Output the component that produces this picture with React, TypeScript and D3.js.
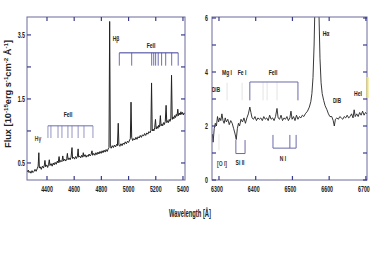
import React from "react";
import * as d3 from "d3";

// ---------- Left panel data (wavelength Å, flux in plotted units) ----------
const leftWave = [4255,4262,4268,4275,4282,4290,4297,4305,4312,4320,4328,4335,4340,4344,4350,4358,4366,4374,4381,4385,4390,4398,4405,4412,4417,4422,4430,4438,4446,4453,4460,4468,4476,4482,4489,4494,4502,4510,4516,4522,4530,4538,4545,4550,4555,4562,4570,4577,4584,4588,4595,4603,4610,4617,4624,4629,4633,4640,4648,4655,4662,4667,4672,4680,4688,4695,4702,4710,4717,4724,4731,4736,4744,4752,4760,4767,4775,4782,4790,4798,4805,4812,4820,4828,4835,4843,4850,4856,4861,4866,4872,4880,4888,4896,4904,4912,4918,4924,4929,4936,4944,4952,4960,4968,4976,4984,4992,5000,5008,5013,5018,5023,5030,5038,5046,5054,5062,5070,5078,5086,5094,5102,5110,5118,5126,5134,5142,5150,5158,5164,5169,5174,5180,5186,5192,5198,5203,5210,5216,5222,5228,5234,5239,5245,5251,5257,5263,5270,5276,5281,5287,5293,5299,5305,5311,5316,5321,5327,5333,5339,5345,5351,5356,5362,5367,5373,5379,5385,5391,5397,5403,5409,5415];
const leftFlux = [0.36,0.39,0.35,0.37,0.34,0.38,0.35,0.37,0.40,0.37,0.41,0.45,0.66,0.42,0.44,0.40,0.45,0.42,0.47,0.54,0.44,0.47,0.43,0.48,0.55,0.46,0.49,0.45,0.50,0.47,0.51,0.48,0.53,0.50,0.60,0.51,0.54,0.52,0.61,0.53,0.56,0.53,0.57,0.65,0.55,0.58,0.55,0.59,0.74,0.57,0.59,0.56,0.60,0.57,0.61,0.72,0.59,0.61,0.58,0.62,0.59,0.66,0.60,0.63,0.59,0.62,0.60,0.64,0.61,0.63,0.69,0.62,0.65,0.62,0.66,0.63,0.67,0.64,0.68,0.65,0.69,0.66,0.70,0.67,0.71,0.68,0.72,0.74,2.71,0.76,0.73,0.77,0.74,0.78,0.75,0.79,0.77,1.12,0.78,0.76,0.80,0.77,0.81,0.79,0.83,0.80,0.84,0.82,0.86,0.88,1.45,0.90,0.85,0.88,0.86,0.90,0.87,0.91,0.89,0.93,0.90,0.94,0.92,0.96,0.93,0.97,0.95,0.99,0.97,1.01,1.75,1.00,1.03,1.00,1.05,1.18,1.03,1.07,1.04,1.09,1.06,1.24,1.08,1.11,1.08,1.13,1.10,1.15,1.40,1.13,1.16,1.13,1.18,1.15,1.20,1.87,1.18,1.22,1.19,1.24,1.21,1.26,1.23,1.34,1.24,1.28,1.25,1.30,1.26,1.29,1.25,1.28,1.27];

const leftXTicks = [4400, 4600, 4800, 5000, 5200, 5400];
const leftYTicks = [0.5, 1.0, 1.5, 2.0, 2.5];
const leftYLabels = ["0.5", "", "1.5", "", "3.5"];

// Fe II combs (left panel)
const feUpperWaves = [4932, 5023, 5170, 5185, 5199, 5218, 5243, 5273, 5317, 5365];
const feLowerWaves = [4407, 4429, 4481, 4510, 4554, 4584, 4629, 4672, 4738];

// ---------- Right panel data ----------
const rightWave = [6282,6284,6287,6290,6293,6296,6299,6302,6305,6308,6311,6314,6317,6320,6324,6328,6332,6336,6340,6344,6347,6350,6353,6356,6360,6364,6368,6372,6376,6380,6384,6387,6390,6394,6398,6402,6406,6410,6414,6418,6422,6426,6430,6434,6438,6442,6446,6450,6454,6458,6461,6465,6469,6473,6477,6481,6485,6489,6493,6496,6499,6503,6507,6511,6515,6519,6523,6527,6531,6535,6541,6546,6550,6553,6556,6559,6561,6564,6567,6570,6572,6575,6578,6581,6585,6589,6594,6598,6602,6607,6611,6614,6617,6621,6625,6629,6633,6637,6641,6645,6649,6653,6657,6661,6665,6668,6671,6675,6679,6683,6687,6691,6695,6699,6703];
const rightFlux = [1.7,1.4,1.9,2.1,2.0,2.35,2.15,2.3,2.2,2.45,2.2,2.1,2.3,2.15,2.25,2.05,2.2,2.1,1.9,1.7,1.5,1.9,2.1,2.0,2.25,2.15,2.3,2.1,2.3,2.45,2.7,2.5,2.3,2.25,2.35,2.2,2.3,2.25,2.3,2.2,2.35,2.25,2.3,2.2,2.4,2.25,2.3,2.2,2.35,2.65,2.3,2.25,2.4,2.2,2.3,2.25,2.35,2.2,2.3,2.55,2.25,2.35,2.2,2.4,2.25,2.35,2.3,2.4,2.35,2.45,2.55,2.7,2.9,3.2,3.8,5.0,6.3,9.0,10.0,9.0,6.3,4.5,3.6,3.2,2.95,2.75,2.6,2.45,2.35,2.35,2.2,2.0,2.25,2.3,2.25,2.35,2.3,2.25,2.35,2.3,2.4,2.3,2.35,2.45,2.3,2.6,2.35,2.45,2.35,2.5,2.4,2.55,2.4,2.5,2.45];

const rightXTicks = [6300, 6400, 6500, 6600, 6700];
const rightYTicks = [0, 1, 2, 3, 4, 5, 6];
const rightYLabels = ["0", "", "2", "", "4", "", "6"];

// Right-panel line identifications (wavelengths)
const feIIBracket = [6384, 6515];
const feIIFaint = [6420, 6431, 6458];
const mgIWave = 6322;
const feIWave = 6363;
const siIIBracket = [6346, 6371];
const nIBracket = [6447, 6493, 6510];
const oIWave = 6300;

const FRAME = "#6a6a9a";
const TICK = "#3a3a8c";
const FONT = "'Liberation Sans', Arial, sans-serif";

function T({ x, y, children, size = 7, sx = 0.72, anchor = "middle", fill = "#222" }: any) {
  return (
    <text
      transform={`translate(${x},${y}) scale(${sx},1)`}
      textAnchor={anchor}
      fontSize={size}
      fontWeight="bold"
      fontFamily={FONT}
      fill={fill}
    >
      {children}
    </text>
  );
}

export default function App() {
  const xL = d3.scaleLinear().domain([4253, 5415]).range([27, 185]);
  const yL = d3.scaleLinear().domain([0.234, 2.78]).range([180, 17]);
  const xR = d3.scaleLinear().domain([6281, 6703]).range([212, 367]);
  const yR = d3.scaleLinear().domain([0, 6]).range([180, 18]);

  const lineL = d3
    .line<number>()
    .x((_, i) => xL(leftWave[i]))
    .y((d) => yL(d));
  const lineR = d3
    .line<number>()
    .x((_, i) => xR(rightWave[i]))
    .y((d) => yR(d));

  const tl = 4;

  const frame = (x0: number, x1: number, y0: number, y1: number) => (
    <rect x={x0} y={y0} width={x1 - x0} height={y1 - y0} fill="none" stroke={FRAME} strokeWidth={1} />
  );

  // comb levels
  const upTop = yL(2.22), upBot = yL(2.02);
  const loTop = yL(1.08), loBot = yL(0.89);

  return (
    <svg width={370} height={278} style={{ position: "absolute", left: 0, top: 0, background: "#fff" }}>
      <defs>
        <clipPath id="clipL">
          <rect x={27} y={17} width={158} height={163} />
        </clipPath>
        <clipPath id="clipR">
          <rect x={212} y={17} width={155} height={163} />
        </clipPath>
      </defs>

      {/* ---------- LEFT PANEL ---------- */}
      <path d={lineL(leftFlux) || ""} fill="none" stroke="#222" strokeWidth={1} clipPath="url(#clipL)" />
      {frame(27, 185, 17, 180)}
      {leftXTicks.map((t) => (
        <g key={"lx" + t}>
          <line x1={xL(t)} x2={xL(t)} y1={180} y2={180 - tl} stroke={TICK} strokeWidth={1.2} />
          <line x1={xL(t)} x2={xL(t)} y1={17} y2={17 + tl} stroke={TICK} strokeWidth={1.2} />
          <T x={xL(t)} y={192} size={8.5} sx={0.62}>{t}</T>
        </g>
      ))}
      {leftYTicks.map((t, i) => (
        <g key={"ly" + t}>
          <line x1={27} x2={27 + tl} y1={yL(t)} y2={yL(t)} stroke={TICK} strokeWidth={1.2} />
          <line x1={185} x2={185 - tl} y1={yL(t)} y2={yL(t)} stroke={TICK} strokeWidth={1.2} />
          {leftYLabels[i] && (
            <T x={25} y={yL(t) + 3} size={8.5} sx={0.62} anchor="end">{leftYLabels[i]}</T>
          )}
        </g>
      ))}

      {/* Fe II upper comb */}
      <line x1={xL(feUpperWaves[0])} x2={xL(feUpperWaves[feUpperWaves.length - 1])} y1={upTop} y2={upTop} stroke="#3a3a96" strokeWidth={1} />
      {feUpperWaves.map((w) => (
        <line key={"fu" + w} x1={xL(w)} x2={xL(w)} y1={upTop} y2={upBot} stroke="#4a4aa0" strokeWidth={0.8} />
      ))}
      <T x={151} y={48}>FeII</T>
      <T x={116} y={41} fill="#3a2a20">Hβ</T>

      {/* Fe II lower comb */}
      <line x1={xL(feLowerWaves[0])} x2={xL(feLowerWaves[feLowerWaves.length - 1])} y1={loTop} y2={loTop} stroke="#6c6cae" strokeWidth={1} />
      {feLowerWaves.map((w) => (
        <line key={"fl" + w} x1={xL(w)} x2={xL(w)} y1={loTop} y2={loBot} stroke="#7a7ab6" strokeWidth={0.8} />
      ))}
      <T x={68} y={117}>FeII</T>
      <T x={38} y={141} fill="#6a4020">Hγ</T>

      {/* ---------- RIGHT PANEL ---------- */}
      {[mgIWave, feIWave].map((w) => (
        <line key={"fa" + w} x1={xR(w)} x2={xR(w)} y1={yR(3.6)} y2={yR(2.95)} stroke="#ddd" strokeWidth={0.8} />
      ))}
      {feIIFaint.map((w) => (
        <line key={"ff" + w} x1={xR(w)} x2={xR(w)} y1={yR(3.63)} y2={yR(2.95)} stroke="#ddd" strokeWidth={0.8} />
      ))}
      <line x1={xR(oIWave)} x2={xR(oIWave)} y1={yR(1.7)} y2={yR(1.1)} stroke="#ddd" strokeWidth={0.8} />

      <path d={lineR(rightFlux) || ""} fill="none" stroke="#222" strokeWidth={0.9} clipPath="url(#clipR)" />
      {frame(212, 367, 17, 180)}
      {rightXTicks.map((t) => (
        <g key={"rx" + t}>
          <line x1={xR(t)} x2={xR(t)} y1={180} y2={180 - tl} stroke={TICK} strokeWidth={1.2} />
          <line x1={xR(t)} x2={xR(t)} y1={17} y2={17 + tl} stroke={TICK} strokeWidth={1.2} />
          <T x={xR(t) - 2} y={192} size={8.5} sx={0.62}>{t}</T>
        </g>
      ))}
      {rightYTicks.map((t, i) => (
        <g key={"ry" + t}>
          <line x1={212} x2={212 + tl} y1={yR(t)} y2={yR(t)} stroke={TICK} strokeWidth={1.2} />
          <line x1={367} x2={367 - tl} y1={yR(t)} y2={yR(t)} stroke={TICK} strokeWidth={1.2} />
          {rightYLabels[i] && (
            <T x={208} y={yR(t) + 3} size={8.5} sx={0.62} anchor="end">{rightYLabels[i]}</T>
          )}
        </g>
      ))}

      <path
        d={`M${xR(feIIBracket[0])},${yR(2.95)}V${yR(3.63)}H${xR(feIIBracket[1])}V${yR(2.95)}`}
        fill="none"
        stroke="#6a6aa8"
        strokeWidth={1}
      />
      <path
        d={`M${xR(siIIBracket[0])},${yR(1.48)}V${yR(0.98)}H${xR(siIIBracket[1])}V${yR(1.48)}`}
        fill="none"
        stroke="#6a6aa8"
        strokeWidth={1}
      />
      <path
        d={`M${xR(nIBracket[0])},${yR(1.67)}V${yR(1.18)}H${xR(nIBracket[2])}V${yR(1.67)}`}
        fill="none"
        stroke="#6a6aa8"
        strokeWidth={1}
      />
      <line x1={xR(nIBracket[1])} x2={xR(nIBracket[1])} y1={yR(1.67)} y2={yR(1.18)} stroke="#6a6aa8" strokeWidth={1} />

      <rect x={366.5} y={77} width={2} height={21} fill="#f0e060" />

      <T x={216} y={92} size={6.5}>DIB</T>
      <T x={227} y={75}>Mg I</T>
      <T x={242} y={75}>Fe I</T>
      <T x={273} y={75}>FeII</T>
      <T x={326} y={36}>Hα</T>
      <T x={337} y={103} size={6.5}>DIB</T>
      <T x={358} y={96}>HeI</T>
      <T x={222} y={166} fill="#4a3a40">[O I]</T>
      <T x={240} y={165}>Si II</T>
      <T x={283} y={161}>N I</T>

      <T x={190} y={217} size={10} sx={0.58}>Wavelength [Å]</T>
      <text
        transform="translate(11,94) rotate(-90)"
        textAnchor="middle"
        fontSize={9}
        fontWeight="bold"
        fontFamily={FONT}
        fill="#222"
        textLength={108}
        lengthAdjust="spacingAndGlyphs"
      >
        Flux [10<tspan dy={-3} fontSize={6}>-15</tspan>
        <tspan dy={3}>erg s</tspan>
        <tspan dy={-3} fontSize={6}>-1</tspan>
        <tspan dy={3}>cm</tspan>
        <tspan dy={-3} fontSize={6}>-2</tspan>
        <tspan dy={3}> Å</tspan>
        <tspan dy={-3} fontSize={6}>-1</tspan>
        <tspan dy={3}>]</tspan>
      </text>
    </svg>
  );
}
